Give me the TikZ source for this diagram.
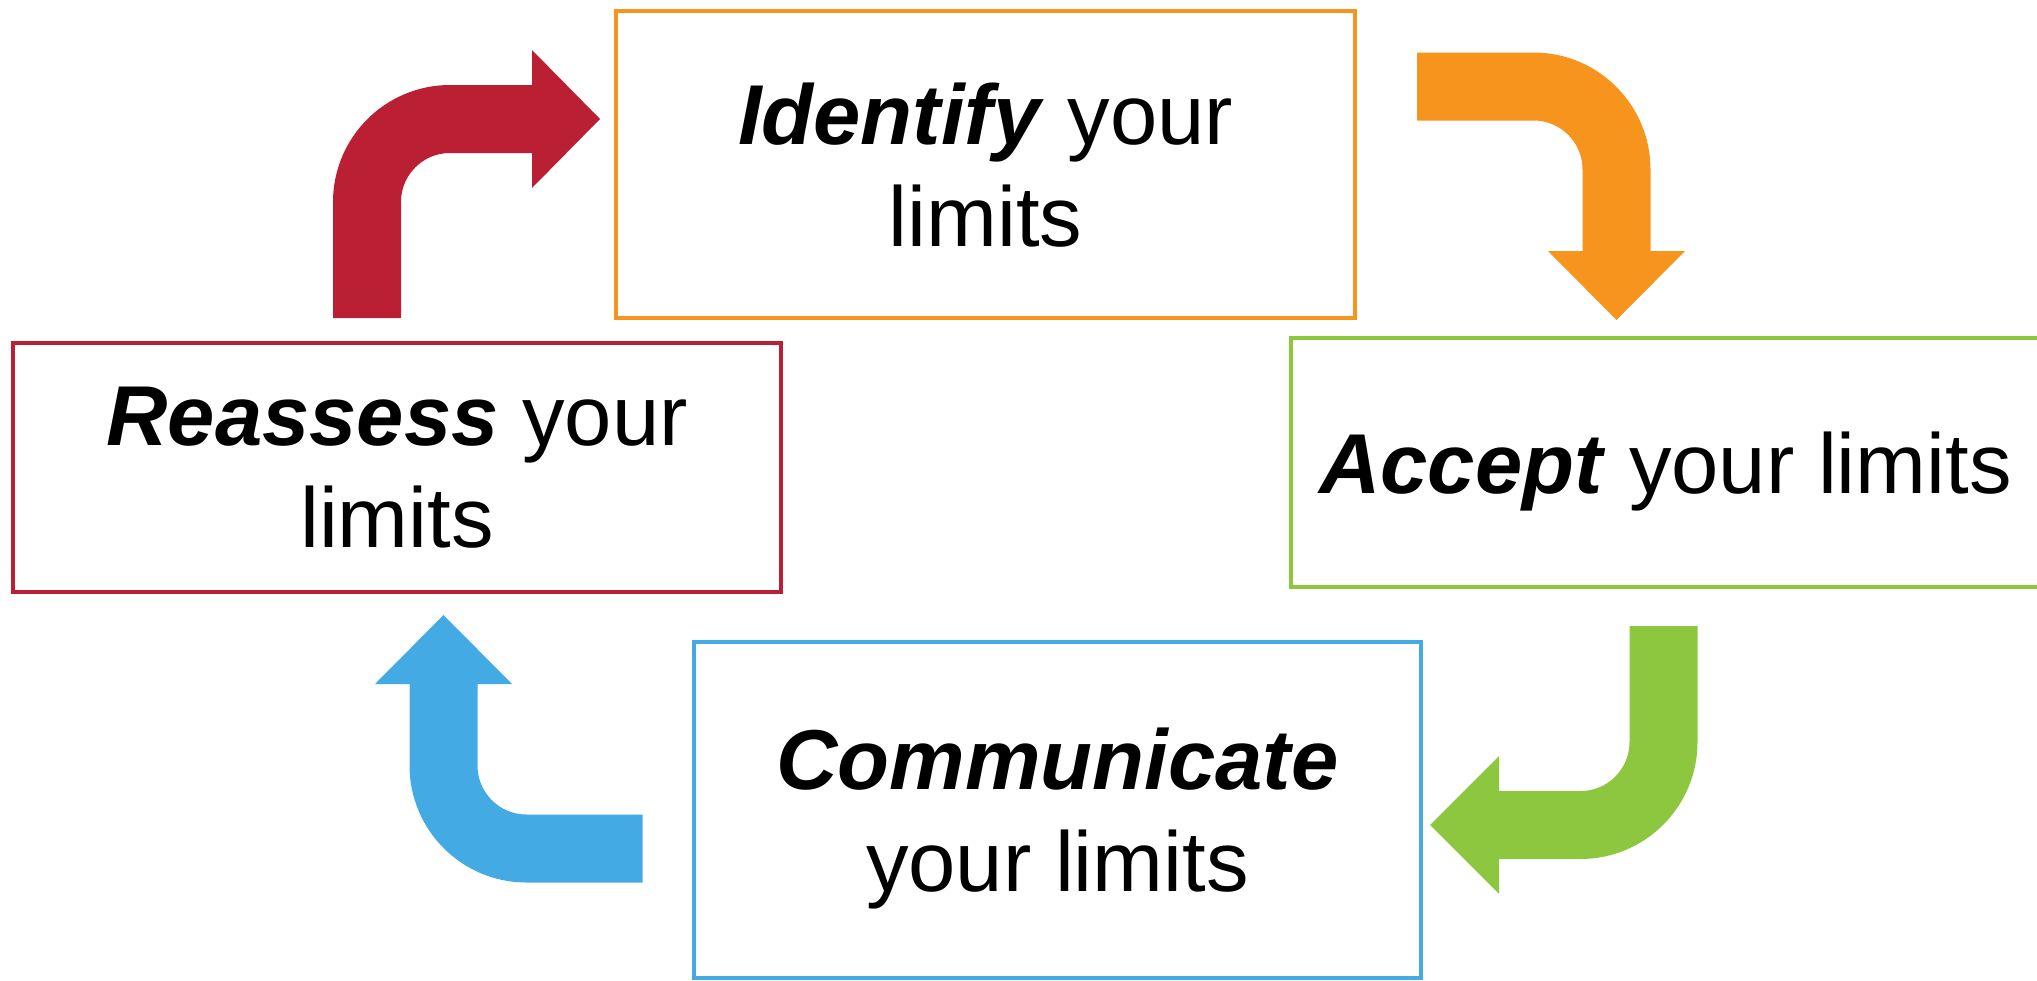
\documentclass[tikz,border=0pt]{standalone}
\usepackage{fontspec}
\setmainfont{Liberation Sans}
\definecolor{cyclered}{RGB}{186,31,52}
\definecolor{cycleorange}{RGB}{247,148,30}
\definecolor{cyclegreen}{RGB}{141,198,63}
\definecolor{cycleblue}{RGB}{68,170,228}
\begin{document}
\begin{tikzpicture}[x=1pt,y=-1pt,
  stagebox/.style={draw, line width=3.5pt, inner sep=0pt, align=center,
    text depth=0pt, font=\fontsize{85}{102}\selectfont},
  bentarrow/.style={line width=68pt, rounded corners=83pt},
  verb/.style={}]
\useasboundingbox (0,0) rectangle (2037,980);

% stage boxes
\node[stagebox, draw=cycleorange, minimum width=739pt, minimum height=307pt]
  (identify) at (985.5,164.5) {\textbf{\textit{Identify}} your\\limits};
\node[stagebox, draw=cyclered, minimum width=768pt, minimum height=249pt]
  (reassess) at (397,467.5) {\textbf{\textit{Reassess}} your\\limits};
\node[stagebox, draw=cyclegreen, minimum width=749pt, minimum height=249pt]
  (accept) at (1665.5,462.5) {\textbf{\textit{Accept}} your limits};
\node[stagebox, draw=cycleblue, minimum width=727pt, minimum height=336pt]
  (communicate) at (1057.5,810) {\textbf{\textit{Communicate}}\\your limits};

% bent arrows: tail, bend, head base
\coordinate (r0) at (367,318);
\coordinate (r1) at (367,119);
\coordinate (r2) at (532,119);
\draw[bentarrow, cyclered] (r0) -- (r1) -- ([xshift=1pt]r2);
\fill[cyclered] (r2) ++(0,-69) -- ++(68,69) -- ++(-68,69) -- cycle;

\coordinate (o0) at (1417,86.5);
\coordinate (o1) at (1616.5,86.5);
\coordinate (o2) at (1616.5,251);
\draw[bentarrow, cycleorange] (o0) -- (o1) -- ([yshift=-1pt]o2);
\fill[cycleorange] (o2) ++(-68.5,0) -- ++(68.5,69) -- ++(68.5,-69) -- cycle;

\coordinate (g0) at (1663.5,626);
\coordinate (g1) at (1663.5,825);
\coordinate (g2) at (1499,825);
\draw[bentarrow, cyclegreen] (g0) -- (g1) -- ([xshift=-1pt]g2);
\fill[cyclegreen] (g2) ++(0,-69) -- ++(-69,69) -- ++(69,69) -- cycle;

\coordinate (b0) at (642.5,848.5);
\coordinate (b1) at (443.5,848.5);
\coordinate (b2) at (443.5,684);
\draw[bentarrow, cycleblue] (b0) -- (b1) -- ([yshift=1pt]b2);
\fill[cycleblue] (b2) ++(-68.5,0) -- ++(68.5,-69) -- ++(68.5,69) -- cycle;
\end{tikzpicture}
\end{document}
